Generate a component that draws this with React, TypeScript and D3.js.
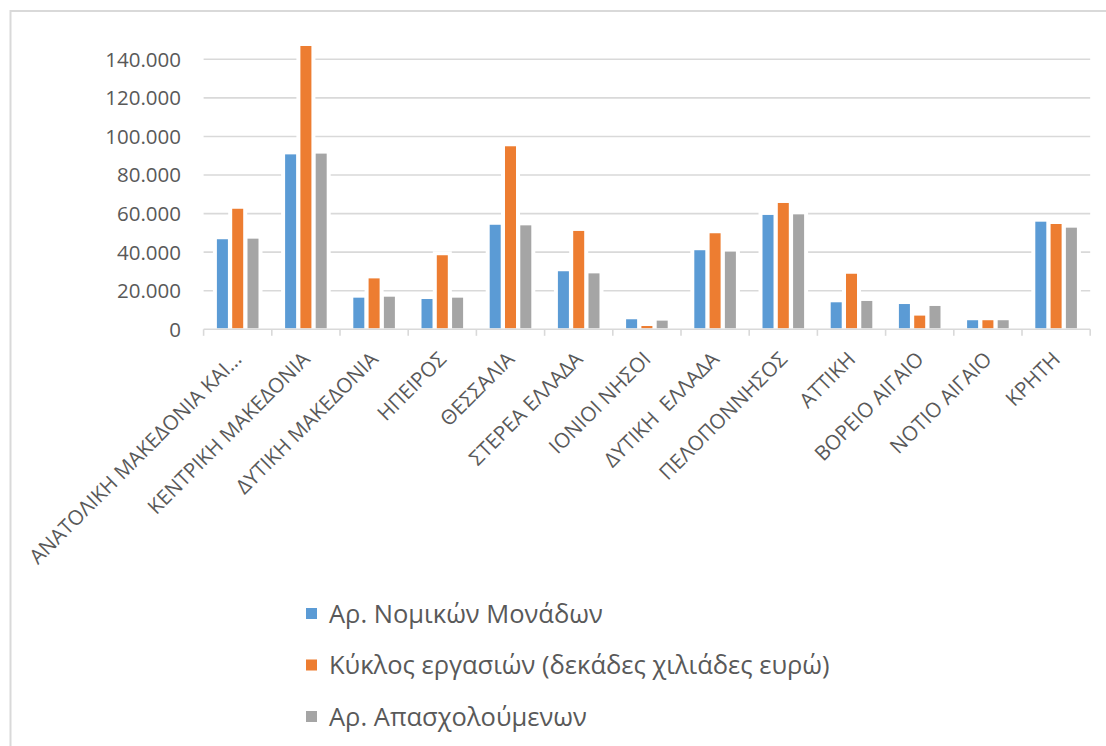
import React from "react";
import * as d3 from "d3";

// Regions of Greece
const categories: string[] = [
  "ΑΝΑΤΟΛΙΚΗ ΜΑΚΕΔΟΝΙΑ ΚΑΙ...",
  "ΚΕΝΤΡΙΚΗ ΜΑΚΕΔΟΝΙΑ",
  "ΔΥΤΙΚΗ ΜΑΚΕΔΟΝΙΑ",
  "ΗΠΕΙΡΟΣ",
  "ΘΕΣΣΑΛΙΑ",
  "ΣΤΕΡΕΑ ΕΛΛΑΔΑ",
  "ΙΟΝΙΟΙ ΝΗΣΟΙ",
  "ΔΥΤΙΚΗ  ΕΛΛΑΔΑ",
  "ΠΕΛΟΠΟΝΝΗΣΟΣ",
  "ΑΤΤΙΚΗ",
  "ΒΟΡΕΙΟ ΑΙΓΑΙΟ",
  "ΝΟΤΙΟ ΑΙΓΑΙΟ",
  "ΚΡΗΤΗ",
];

const seriesNames: string[] = [
  "Αρ. Νομικών Μονάδων",
  "Κύκλος εργασιών (δεκάδες χιλιάδες ευρώ)",
  "Αρ. Απασχολούμενων",
];

const legalUnits: number[] = [
  46700, 90700, 16400, 15700, 54200, 30100, 5200, 41000, 59300, 14000, 13100, 4700, 55800,
];
const turnover: number[] = [
  62500, 146900, 26400, 38400, 94900, 51000, 1700, 49800, 65500, 28800, 7100, 4700, 54600,
];
const employees: number[] = [
  47000, 91100, 16900, 16400, 53900, 29000, 4500, 40300, 59600, 14700, 12100, 4700, 52700,
];

const yTicks: number[] = [0, 20000, 40000, 60000, 80000, 100000, 120000, 140000];

const seriesValues = [legalUnits, turnover, employees];
const colors = ["#5B9BD5", "#ED7D31", "#A5A5A5"];

const W = 1106;
const H = 746;
const FONT = "'Open Sans', 'Noto Sans', sans-serif";
const TEXT = "#595959";
const GRID = "#D9D9D9";

const greek = d3.formatLocale({
  decimal: ",",
  thousands: ".",
  grouping: [3],
  currency: ["", "€"],
});
const fmt = greek.format(",");

export default function App() {
  const plotLeft = 203.6;
  const plotRight = 1090.2;
  const x0 = d3.scaleBand<string>().domain(categories).range([plotLeft, plotRight]);
  const x1 = d3
    .scaleBand<number>()
    .domain([0, 1, 2])
    .range([0, x0.bandwidth()])
    .paddingInner(0.28)
    .paddingOuter(0.87);
  const y = d3.scaleLinear().domain([0, 140000]).range([329.3, 59.3]);
  const base = y(0);
  const halo = 4;

  const boundaries = d3.range(categories.length + 1).map((i) => plotLeft + i * x0.step());

  const bars = categories.flatMap((c, ci) =>
    seriesValues.map((vals, si) => ({
      key: `${ci}-${si}`,
      x: (x0(c) as number) + (x1(si) as number),
      y: y(vals[ci]),
      w: x1.bandwidth(),
      h: base - y(vals[ci]),
      color: colors[si],
    }))
  );

  return (
    <svg
      width={W}
      height={H}
      style={{ position: "absolute", left: 0, top: 0, display: "block", background: "#fff" }}
      fontFamily={FONT}
    >
      <rect x={0} y={0} width={W} height={H} fill="#fff" />
      {/* chart area frame */}
      <rect x={10.5} y={11} width={1200} height={900} fill="none" stroke={GRID} strokeWidth={2} />

      {/* horizontal gridlines */}
      {yTicks
        .filter((t) => t > 0)
        .map((t) => (
          <line key={t} x1={plotLeft} x2={plotRight} y1={y(t)} y2={y(t)} stroke={GRID} strokeWidth={1.6} />
        ))}

      {/* y tick labels */}
      {yTicks.map((t) => (
        <text
          key={t}
          x={181}
          y={y(t)}
          dy="0.36em"
          textAnchor="end"
          fontSize={20.5}
          fill={TEXT}
        >
          {fmt(t)}
        </text>
      ))}

      {/* white surround behind bars */}
      {bars.map((b) => (
        <rect
          key={"h" + b.key}
          x={b.x - halo}
          y={b.y - halo}
          width={b.w + 2 * halo}
          height={b.h + halo}
          fill="#fff"
        />
      ))}

      {/* bars */}
      {bars.map((b) => (
        <rect key={b.key} x={b.x} y={b.y} width={b.w} height={Math.max(0, b.h - 1)} fill={b.color} />
      ))}

      {/* category axis */}
      <line x1={plotLeft} x2={plotRight} y1={base} y2={base} stroke={GRID} strokeWidth={1.6} />
      {boundaries.map((bx, i) => (
        <line key={i} x1={bx} x2={bx} y1={base} y2={base + 6.5} stroke={GRID} strokeWidth={1.6} />
      ))}

      {/* category labels */}
      {categories.map((c) => {
        const cx = (x0(c) as number) + x0.bandwidth() / 2;
        const cy = base + 26;
        return (
          <text
            key={c}
            transform={`translate(${cx},${cy}) rotate(-45)`}
            textAnchor="end"
            dy="0.36em"
            fontSize={20.5}
            fill={TEXT}
            style={{ whiteSpace: "pre" }}
          >
            {c}
          </text>
        );
      })}

      {/* legend */}
      {seriesNames.map((s, i) => {
        const cy = 613.5 + i * 51.5;
        return (
          <g key={s}>
            <rect x={306} y={cy - 5.5} width={11} height={11} fill={colors[i]} />
            <text x={329} y={cy} dy="0.36em" fontSize={25.5} fill={TEXT}>
              {s}
            </text>
          </g>
        );
      })}
    </svg>
  );
}
